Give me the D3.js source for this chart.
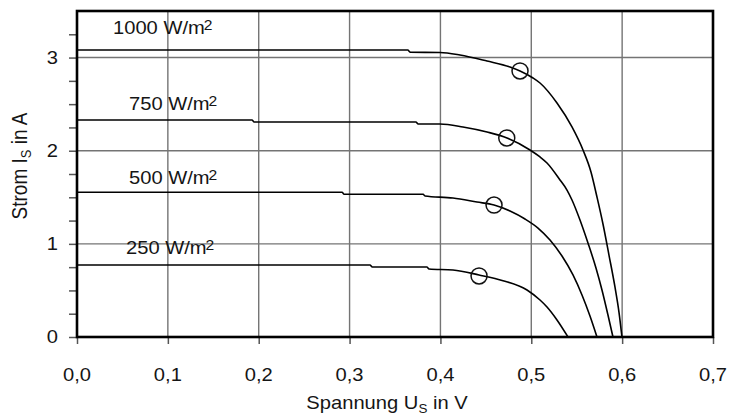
<!DOCTYPE html>
<html><head><meta charset="utf-8">
<script src="https://cdn.jsdelivr.net/npm/d3@7"></script>
<style>
body{margin:0;background:#fff}
svg{display:block}
text{font-family:"Liberation Sans",Arial,sans-serif;fill:#151515}
</style>
</head><body>
<svg id="c" width="731" height="416"></svg>
<script>
// ---- data ----
const series = ["1000", "750", "500", "250"];
const seriesLabels = ["1000 W/m", "750 W/m", "500 W/m", "250 W/m"];
const u1000 = [0, 0.364, 0.367, 0.3995, 0.4215, 0.4513, 0.4766, 0.4876, 0.5019, 0.5096, 0.5283, 0.5448, 0.5569, 0.5657, 0.5723, 0.5789, 0.5855, 0.5921, 0.5965, 0.5998];
const i1000 = [3.081, 3.081, 3.057, 3.055, 3.028, 2.963, 2.899, 2.856, 2.781, 2.727, 2.512, 2.255, 2.008, 1.772, 1.503, 1.213, 0.880, 0.537, 0.268, 0];
const u750 = [0, 0.1926, 0.195, 0.373, 0.3755, 0.3995, 0.4248, 0.4513, 0.4733, 0.4986, 0.5096, 0.5173, 0.5316, 0.5393, 0.5448, 0.5536, 0.5624, 0.5712, 0.5778, 0.5844, 0.5899];
const i750 = [2.330, 2.330, 2.308, 2.308, 2.287, 2.287, 2.255, 2.201, 2.137, 2.008, 1.933, 1.868, 1.686, 1.578, 1.471, 1.256, 1.009, 0.741, 0.505, 0.236, 0];
const u500 = [0, 0.2917, 0.294, 0.381, 0.383, 0.4138, 0.4402, 0.459, 0.4766, 0.4931, 0.5074, 0.5206, 0.5338, 0.5459, 0.5558, 0.5646, 0.5723];
const i500 = [1.554, 1.554, 1.532, 1.532, 1.514, 1.492, 1.449, 1.417, 1.353, 1.267, 1.170, 1.041, 0.869, 0.666, 0.451, 0.225, 0];
const u250 = [0, 0.3225, 0.325, 0.385, 0.3875, 0.4138, 0.4425, 0.4689, 0.4953, 0.5096, 0.5173, 0.5283, 0.5404];
const i250 = [0.773, 0.773, 0.752, 0.752, 0.730, 0.719, 0.666, 0.605, 0.505, 0.397, 0.322, 0.183, 0];
const mppU = [0.4876, 0.473, 0.459, 0.4425];
const mppI = [2.856, 2.137, 1.417, 0.655];
const xTicks = [0, 0.1, 0.2, 0.3, 0.4, 0.5, 0.6, 0.7];
const xTickLabels = ["0,0", "0,1", "0,2", "0,3", "0,4", "0,5", "0,6", "0,7"];
const yTicks = [0, 1, 2, 3];
const yTickLabels = ["0", "1", "2", "3"];
const yMinorTicks = [0.25, 0.5, 0.75, 1.25, 1.5, 1.75, 2.25, 2.5, 2.75, 3.25];

// ---- layout ----
const svg = d3.select("#c");
const SX = 1.12; // horizontal stretch of the original raster
const x = d3.scaleLinear().domain([0, 0.7]).range([77, 713]);
const y = d3.scaleLinear().domain([0, 3.5]).range([337, 11]);

svg.append("rect").attr("width", 731).attr("height", 416).attr("fill", "#fff");

// grid
const grid = svg.append("g").attr("stroke", "#747474").attr("stroke-width", 1.4);
grid.selectAll("line.v").data(xTicks.slice(1, -1)).join("line")
  .attr("x1", d => x(d)).attr("x2", d => x(d)).attr("y1", y(0)).attr("y2", y(3.5));
grid.selectAll("line.h").data(yTicks.slice(1)).join("line")
  .attr("x1", x(0)).attr("x2", x(0.7)).attr("y1", d => y(d)).attr("y2", d => y(d));

// axes ticks
const yAx = svg.append("g").attr("transform", `translate(${x(0)},0)`)
  .call(d3.axisLeft(y).tickValues(yTicks.concat(yMinorTicks)).tickSize(8).tickFormat(""));
yAx.select(".domain").remove();
yAx.selectAll(".tick line").attr("stroke", "#555").attr("stroke-width", 1.5);
const xAx = svg.append("g").attr("transform", `translate(0,${y(0)})`)
  .call(d3.axisBottom(x).tickValues(xTicks).tickSize(7).tickFormat(""));
xAx.select(".domain").remove();
xAx.selectAll(".tick line").attr("stroke", "#555").attr("stroke-width", 1.5);

// frame
svg.append("rect").attr("x", x(0)).attr("y", y(3.5))
  .attr("width", x(0.7) - x(0)).attr("height", y(0) - y(3.5))
  .attr("fill", "none").attr("stroke", "#000").attr("stroke-width", 2.6);

// text helper (stretched horizontally like the reference)
function addText(px, py, anchor, size, parts, rot) {
  const t = svg.append("text")
    .attr("transform", `translate(${px},${py}) scale(${SX},1)` + (rot ? ` rotate(${rot})` : ""))
    .attr("text-anchor", anchor).attr("font-size", size);
  parts.forEach(p => {
    const s = t.append("tspan").text(p.t);
    if (p.s) s.attr("font-size", p.s);
    if (p.dy) s.attr("dy", p.dy);
    if (p.dx) s.attr("dx", p.dx);
  });
  return t;
}

// tick labels
xTicks.forEach((v, k) => addText(x(v), 381, "middle", 18, [{t: xTickLabels[k]}]));
yTicks.forEach((v, k) => addText(58, y(v) + 6.3, "end", 18, [{t: yTickLabels[k]}]));

// axis titles
addText(387, 409, "middle", 18, [{t: "Spannung U"}, {t: "S", s: 12, dy: 4}, {t: " in V", dy: -4}]);
addText(27, 166, "middle", 19, [{t: "Strom I"}, {t: "S", s: 13, dy: 4}, {t: " in A", dy: -4}], -90);

// curves
const curves = [[u1000, i1000], [u750, i750], [u500, i500], [u250, i250]];
const line = d3.line().x(d => x(d[0])).y(d => y(d[1])).curve(d3.curveMonotoneX);
svg.append("g").selectAll("path").data(curves).join("path")
  .attr("d", c => line(c[0].map((u, k) => [u, c[1][k]])))
  .attr("fill", "none").attr("stroke", "#000").attr("stroke-width", 1.6);

// MPP circles
svg.append("g").selectAll("circle").data(mppU).join("circle")
  .attr("cx", d => x(d)).attr("cy", (d, k) => y(mppI[k])).attr("r", 8)
  .attr("fill", "none").attr("stroke", "#111").attr("stroke-width", 1.5);

// series labels
const labelAt = [[0.0396, 3.253], [0.0572, 2.437], [0.0572, 1.643], [0.0539, 0.891]];
seriesLabels.forEach((s, k) => addText(x(labelAt[k][0]), y(labelAt[k][1]), "start", 18,
  [{t: s}, {t: "2", s: 14, dy: -4, dx: -1}]));
</script>
</body></html>
